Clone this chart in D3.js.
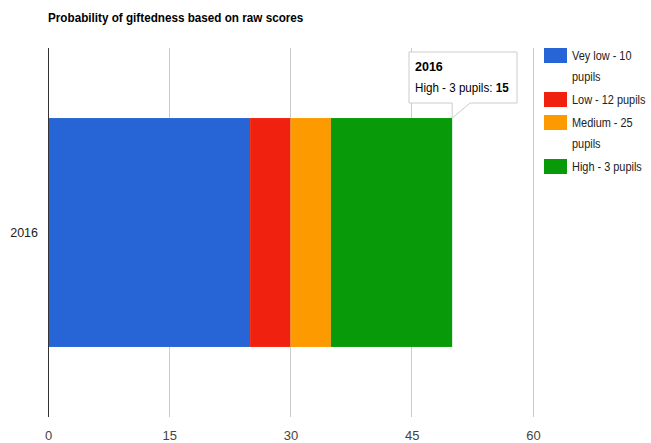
<!DOCTYPE html>
<html><head><meta charset="utf-8">
<script src="https://cdn.jsdelivr.net/npm/d3@7"></script>
<style>body{margin:0;background:#fff}svg{display:block;font-family:Arial,"Liberation Sans",sans-serif}</style>
</head><body><svg id="c" width="651" height="443"></svg>
<script>
const title = "Probability of giftedness based on raw scores";
const categories = ["2016"];
const seriesNames = ["Vey low - 10 pupils", "Low - 12 pupils", "Medium - 25 pupils", "High - 3 pupils"];
const legendLines = [["Vey low - 10", "pupils"], ["Low - 12 pupils"], ["Medium - 25", "pupils"], ["High - 3 pupils"]];
const seriesValues = [[25], [5], [5], [15]];
const colors = ["#2764d6", "#f0220f", "#fd9a00", "#089a08"];
const xTicks = [0, 15, 30, 45, 60];

const svg = d3.select("#c");
const m = {l: 48, r: 533, t: 48, b: 417};
const x = d3.scaleLinear().domain([0, 60]).range([m.l, m.r]);
const y = d3.scaleBand().domain(categories).range([m.t, m.b]).paddingInner(0).paddingOuter(0.306);

svg.append("text").attr("transform", "translate(48,22) scale(0.9,1)").attr("font-size", 13).attr("font-weight", "bold")
  .attr("fill", "#000").text(title);

// gridlines
svg.append("g").selectAll("line").data(xTicks.slice(1)).join("line")
  .attr("x1", d => x(d)).attr("x2", d => x(d)).attr("y1", m.t).attr("y2", m.b)
  .attr("stroke", "#cccccc").attr("stroke-width", 1).attr("shape-rendering", "crispEdges");

// stacked bars
const stacked = [];
categories.forEach((c, ci) => {
  let acc = 0;
  seriesValues.forEach((s, si) => {
    stacked.push({c, si, x0: acc, x1: acc + s[ci], v: s[ci]});
    acc += s[ci];
  });
});
svg.append("g").selectAll("rect").data(stacked).join("rect")
  .attr("x", d => x(d.x0)).attr("width", d => x(d.x1) - x(d.x0))
  .attr("y", d => y(d.c)).attr("height", y.bandwidth())
  .attr("fill", d => colors[d.si]);

// baseline axis
svg.append("line").attr("x1", x(0)).attr("x2", x(0)).attr("y1", m.t).attr("y2", m.b)
  .attr("stroke", "#333").attr("stroke-width", 1).attr("shape-rendering", "crispEdges");

// x tick labels
const xAxis = d3.axisBottom(x).tickValues(xTicks).tickSize(0).tickPadding(0);
const gx = svg.append("g").attr("transform", `translate(0,${m.b})`).call(xAxis);
gx.select(".domain").remove();
gx.selectAll("text").attr("font-size", 13).attr("fill", "#444").attr("y", 23).attr("dy", 0)
  .attr("font-family", "Arial,'Liberation Sans',sans-serif");

// y labels
const yAxis = d3.axisLeft(y).tickSize(0).tickPadding(10);
const gy = svg.append("g").attr("transform", `translate(${m.l},0)`).call(yAxis);
gy.select(".domain").remove();
gy.selectAll("text").attr("font-size", 12.5).attr("fill", "#222").attr("font-family", "Arial,'Liberation Sans',sans-serif");

// legend
const lg = svg.append("g");
let ly = 48;
legendLines.forEach((lines, i) => {
  lg.append("rect").attr("x", 544).attr("y", ly).attr("width", 23).attr("height", 15).attr("fill", colors[i]);
  lines.forEach((t, j) => {
    lg.append("text").attr("transform", `translate(572,${ly + 12 + j * 21}) scale(0.81,1)`)
      .attr("font-size", 13.5).attr("fill", "#222").text(t);
  });
  ly += lines.length * 21 + 2;
});

// tooltip for High segment
const hd = stacked[3];
const tipX = x(hd.x1), tipY = y(hd.c);
const bx = 409, by = 52, bw = 108, bh = 51;
const tt = svg.append("g");
tt.append("path")
  .attr("d", `M${bx},${by} H${bx+bw} V${by+bh} H${tipX+18} L${tipX},${tipY} V${by+bh} H${bx} Z`)
  .attr("fill", "#fff").attr("stroke", "#cccccc").attr("stroke-width", 1);
tt.append("text").attr("x", bx + 6).attr("y", by + 19).attr("font-size", 12.5).attr("font-weight", "bold").attr("fill", "#000").text(hd.c);
const t2 = tt.append("text").attr("transform", `translate(${bx + 6},${by + 40}) scale(0.93,1)`).attr("font-size", 12.5).attr("fill", "#000");
t2.append("tspan").text(seriesNames[3] + ": ");
t2.append("tspan").attr("font-weight", "bold").text(hd.v);
</script></body></html>
